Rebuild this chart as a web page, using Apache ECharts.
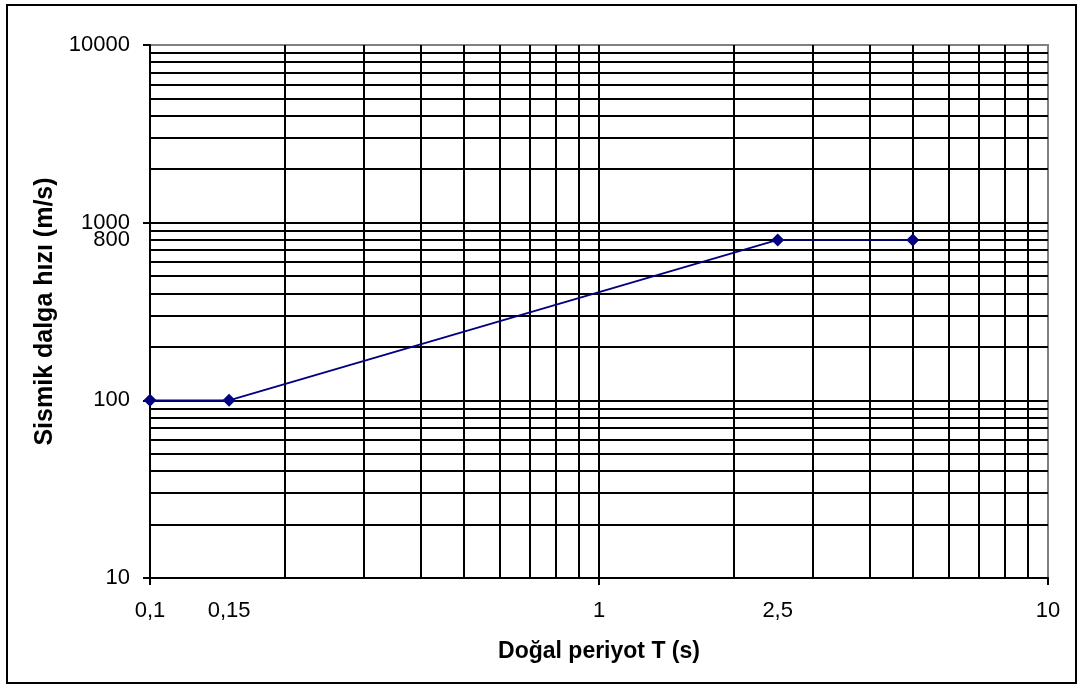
<!DOCTYPE html>
<html>
<head>
<meta charset="utf-8">
<script src="https://cdn.jsdelivr.net/npm/echarts@6/dist/echarts.min.js"></script>
<style>html,body{margin:0;padding:0;background:#fff}#c{width:1081px;height:689px}</style>
</head>
<body>
<div id="c"></div>
<script>
// Data
const periods = [0.1, 0.15, 2.5, 5];
const velocities = [100, 100, 800, 800];
// Tick labels
const xLabelValues = [0.1, 0.15, 1, 2.5, 10];
const yLabelValues = [10, 100, 800, 1000, 10000];
// Grid line values (log grid)
const xGridValues = [0.2,0.3,0.4,0.5,0.6,0.7,0.8,0.9,1,2,3,4,5,6,7,8,9];
const yGridValues = [20,30,40,50,60,70,80,90,100,200,300,400,500,600,700,800,900,1000,2000,3000,4000,5000,6000,7000,8000,9000];

const FONT = "'Liberation Sans', Arial, sans-serif";
const chart = echarts.init(document.getElementById('c'), null, {renderer: 'canvas'});
const fmt = v => String(v).replace('.', ',');

chart.setOption({
  animation: false,
  backgroundColor: '#fff',
  graphic: [{
    type: 'rect', shape: {x: 7, y: 5, width: 1069, height: 678},
    style: {fill: 'none', stroke: '#000', lineWidth: 2}, silent: true, z: 100
  }],
  grid: {left: 150, right: 33, top: 45, bottom: 111, show: true, borderColor: '#808080', borderWidth: 2, backgroundColor: '#fff'},
  xAxis: {
    type: 'log', logBase: 10, min: 0.1, max: 10,
    name: 'Doğal periyot T (s)', nameLocation: 'middle', nameGap: 62,
    nameTextStyle: {fontFamily: FONT, fontWeight: 'bold', fontSize: 23, color: '#000'},
    axisLine: {show: true, lineStyle: {color: '#000', width: 2}},
    axisTick: {show: true, length: 7, lineStyle: {color: '#000', width: 2}},
    axisLabel: {customValues: xLabelValues, formatter: fmt, margin: 22, fontFamily: FONT, fontSize: 22, color: '#000'},
    splitLine: {show: false}
  },
  yAxis: {
    type: 'log', logBase: 10, min: 10, max: 10000,
    name: 'Sismik dalga hızı (m/s)', nameLocation: 'middle', nameGap: 92, nameRotate: 90,
    nameTextStyle: {fontFamily: FONT, fontWeight: 'bold', fontSize: 25, color: '#000'},
    axisLine: {show: true, lineStyle: {color: '#000', width: 2}},
    axisTick: {show: true, length: 7, lineStyle: {color: '#000', width: 2}},
    axisLabel: {customValues: yLabelValues, formatter: fmt, margin: 20, fontFamily: FONT, fontSize: 22, color: '#000', lineHeight: 18},
    splitLine: {show: false}
  },
  series: [
    {
      type: 'line', data: [], silent: true,
      markLine: {
        silent: true, symbol: 'none', label: {show: false}, animation: false,
        lineStyle: {color: '#000', width: 2, type: 'solid'},
        data: xGridValues.map(v => ({xAxis: v})).concat(yGridValues.map(v => ({yAxis: v})))
      }
    },
    {
      type: 'line', z: 10,
      data: periods.map((p, i) => [p, velocities[i]]),
      symbol: 'diamond', symbolSize: 13,
      lineStyle: {color: '#000080', width: 1.8},
      itemStyle: {color: '#000080'}
    }
  ]
});
</script>
</body>
</html>
